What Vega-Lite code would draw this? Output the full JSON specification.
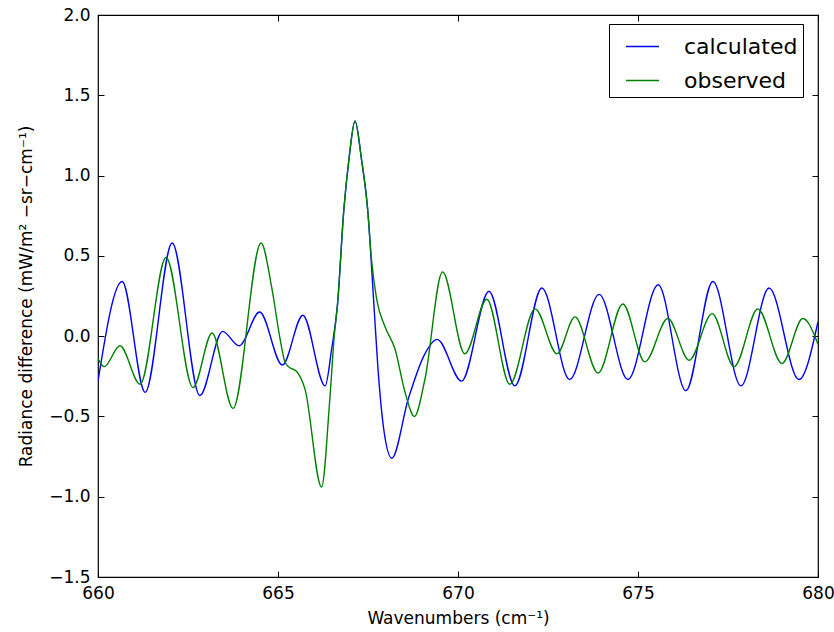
{
  "$schema": "https://vega.github.io/schema/vega-lite/v6.json",
  "width": 720,
  "height": 562,
  "autosize": {"type": "none"},
  "padding": {"left": 98, "top": 15, "right": 16, "bottom": 55},
  "background": "white",
  "config": {
    "font": "DejaVu Sans",
    "view": {"stroke": "black", "strokeWidth": 1.2},
    "axis": {"grid": false, "domain": false, "tickColor": "black", "tickSize": -6, "tickWidth": 1, "labelColor": "black", "labelFont": "DejaVu Sans", "labelFontSize": 17, "titleFont": "DejaVu Sans", "titleFontSize": 17, "titleFontWeight": "normal", "titleColor": "black"}
  },
  "datasets": {
    "spec": [
      {"w": 660.0, "v": -0.28, "s": "calculated"},
      {"w": 660.67, "v": 0.34, "s": "calculated"},
      {"w": 661.31, "v": -0.35, "s": "calculated"},
      {"w": 662.06, "v": 0.58, "s": "calculated"},
      {"w": 662.83, "v": -0.37, "s": "calculated"},
      {"w": 663.46, "v": 0.03, "s": "calculated"},
      {"w": 663.92, "v": -0.06, "s": "calculated"},
      {"w": 664.49, "v": 0.15, "s": "calculated"},
      {"w": 665.12, "v": -0.18, "s": "calculated"},
      {"w": 665.69, "v": 0.13, "s": "calculated"},
      {"w": 666.31, "v": -0.31, "s": "calculated"},
      {"w": 666.49, "v": -0.08, "s": "calculated"},
      {"w": 666.65, "v": 0.19, "s": "calculated"},
      {"w": 666.83, "v": 0.79, "s": "calculated"},
      {"w": 666.97, "v": 1.10, "s": "calculated"},
      {"w": 667.14, "v": 1.34, "s": "calculated"},
      {"w": 667.32, "v": 1.10, "s": "calculated"},
      {"w": 667.49, "v": 0.79, "s": "calculated"},
      {"w": 667.66, "v": 0.21, "s": "calculated"},
      {"w": 667.77, "v": -0.18, "s": "calculated"},
      {"w": 667.95, "v": -0.60, "s": "calculated"},
      {"w": 668.16, "v": -0.76, "s": "calculated"},
      {"w": 668.62, "v": -0.39, "s": "calculated"},
      {"w": 669.08, "v": -0.11, "s": "calculated"},
      {"w": 669.42, "v": -0.02, "s": "calculated"},
      {"w": 670.1, "v": -0.28, "s": "calculated"},
      {"w": 670.86, "v": 0.28, "s": "calculated"},
      {"w": 671.58, "v": -0.31, "s": "calculated"},
      {"w": 672.33, "v": 0.30, "s": "calculated"},
      {"w": 673.1, "v": -0.27, "s": "calculated"},
      {"w": 673.92, "v": 0.26, "s": "calculated"},
      {"w": 674.72, "v": -0.27, "s": "calculated"},
      {"w": 675.56, "v": 0.32, "s": "calculated"},
      {"w": 676.33, "v": -0.34, "s": "calculated"},
      {"w": 677.08, "v": 0.34, "s": "calculated"},
      {"w": 677.86, "v": -0.31, "s": "calculated"},
      {"w": 678.64, "v": 0.30, "s": "calculated"},
      {"w": 679.47, "v": -0.27, "s": "calculated"},
      {"w": 680.0, "v": 0.09, "s": "calculated"},
      {"w": 660.0, "v": -0.14, "s": "observed"},
      {"w": 660.17, "v": -0.19, "s": "observed"},
      {"w": 660.61, "v": -0.06, "s": "observed"},
      {"w": 661.17, "v": -0.30, "s": "observed"},
      {"w": 661.89, "v": 0.49, "s": "observed"},
      {"w": 662.64, "v": -0.32, "s": "observed"},
      {"w": 663.17, "v": 0.02, "s": "observed"},
      {"w": 663.75, "v": -0.45, "s": "observed"},
      {"w": 664.53, "v": 0.58, "s": "observed"},
      {"w": 664.82, "v": 0.31, "s": "observed"},
      {"w": 665.06, "v": -0.02, "s": "observed"},
      {"w": 665.19, "v": -0.16, "s": "observed"},
      {"w": 665.29, "v": -0.19, "s": "observed"},
      {"w": 665.52, "v": -0.22, "s": "observed"},
      {"w": 665.75, "v": -0.33, "s": "observed"},
      {"w": 666.21, "v": -0.94, "s": "observed"},
      {"w": 666.44, "v": -0.39, "s": "observed"},
      {"w": 666.57, "v": 0.02, "s": "observed"},
      {"w": 666.65, "v": 0.19, "s": "observed"},
      {"w": 666.83, "v": 0.79, "s": "observed"},
      {"w": 666.97, "v": 1.10, "s": "observed"},
      {"w": 667.14, "v": 1.34, "s": "observed"},
      {"w": 667.32, "v": 1.10, "s": "observed"},
      {"w": 667.49, "v": 0.79, "s": "observed"},
      {"w": 667.6, "v": 0.47, "s": "observed"},
      {"w": 667.74, "v": 0.23, "s": "observed"},
      {"w": 667.97, "v": 0.06, "s": "observed"},
      {"w": 668.25, "v": -0.08, "s": "observed"},
      {"w": 668.53, "v": -0.35, "s": "observed"},
      {"w": 668.79, "v": -0.50, "s": "observed"},
      {"w": 669.08, "v": -0.27, "s": "observed"},
      {"w": 669.57, "v": 0.40, "s": "observed"},
      {"w": 670.19, "v": -0.11, "s": "observed"},
      {"w": 670.8, "v": 0.23, "s": "observed"},
      {"w": 671.44, "v": -0.30, "s": "observed"},
      {"w": 672.14, "v": 0.17, "s": "observed"},
      {"w": 672.75, "v": -0.11, "s": "observed"},
      {"w": 673.25, "v": 0.12, "s": "observed"},
      {"w": 673.89, "v": -0.23, "s": "observed"},
      {"w": 674.58, "v": 0.20, "s": "observed"},
      {"w": 675.19, "v": -0.16, "s": "observed"},
      {"w": 675.83, "v": 0.11, "s": "observed"},
      {"w": 676.42, "v": -0.15, "s": "observed"},
      {"w": 677.06, "v": 0.14, "s": "observed"},
      {"w": 677.67, "v": -0.19, "s": "observed"},
      {"w": 678.33, "v": 0.17, "s": "observed"},
      {"w": 679.0, "v": -0.17, "s": "observed"},
      {"w": 679.58, "v": 0.11, "s": "observed"},
      {"w": 680.0, "v": -0.05, "s": "observed"}
    ]
  },
  "data": {"name": "spec"},
  "layer": [
    {
      "mark": {"type": "line", "interpolate": "monotone", "strokeWidth": 1.4, "clip": true},
      "encoding": {
        "x": {"field": "w", "type": "quantitative", "scale": {"domain": [660, 680], "nice": false, "zero": false},
              "axis": {"orient": "bottom", "values": [660, 665, 670, 675, 680], "format": ".0f", "labelPadding": 14, "title": "Wavenumbers (cm⁻¹)", "titlePadding": 9, "labelFlush": false}},
        "y": {"field": "v", "type": "quantitative", "scale": {"domain": [-1.5, 2.0], "nice": false, "zero": false},
              "axis": {"orient": "left", "values": [-1.5, -1.0, -0.5, 0.0, 0.5, 1.0, 1.5, 2.0], "format": ".1f", "labelPadding": 14, "title": "Radiance difference (mW/m² −sr−cm⁻¹)", "titlePadding": 13}},
        "color": {"field": "s", "type": "nominal",
                  "scale": {"domain": ["calculated", "observed"], "range": ["#0000ff", "#008000"]},
                  "legend": {"orient": "none", "legendX": 511, "legendY": 9, "title": null, "strokeColor": "black", "fillColor": "white", "padding": 5, "symbolType": "stroke", "symbolSize": 1089, "symbolStrokeWidth": 1.5, "labelFontSize": 22, "labelFont": "DejaVu Sans", "labelColor": "black", "labelOffset": 24, "rowPadding": 5, "cornerRadius": 0, "labelLimit": 300, "symbolOffset": 11}}
      }
    },
    {
      "mark": {"type": "point", "opacity": 0},
      "encoding": {
        "x": {"field": "w", "type": "quantitative", "scale": {"domain": [660, 680], "nice": false, "zero": false},
              "axis": {"orient": "top", "values": [660, 665, 670, 675, 680], "labels": false, "title": null}},
        "y": {"field": "v", "type": "quantitative", "scale": {"domain": [-1.5, 2.0], "nice": false, "zero": false},
              "axis": {"orient": "right", "values": [-1.5, -1.0, -0.5, 0.0, 0.5, 1.0, 1.5, 2.0], "labels": false, "title": null}}
      }
    }
  ],
  "resolve": {"axis": {"x": "independent", "y": "independent"}}
}
